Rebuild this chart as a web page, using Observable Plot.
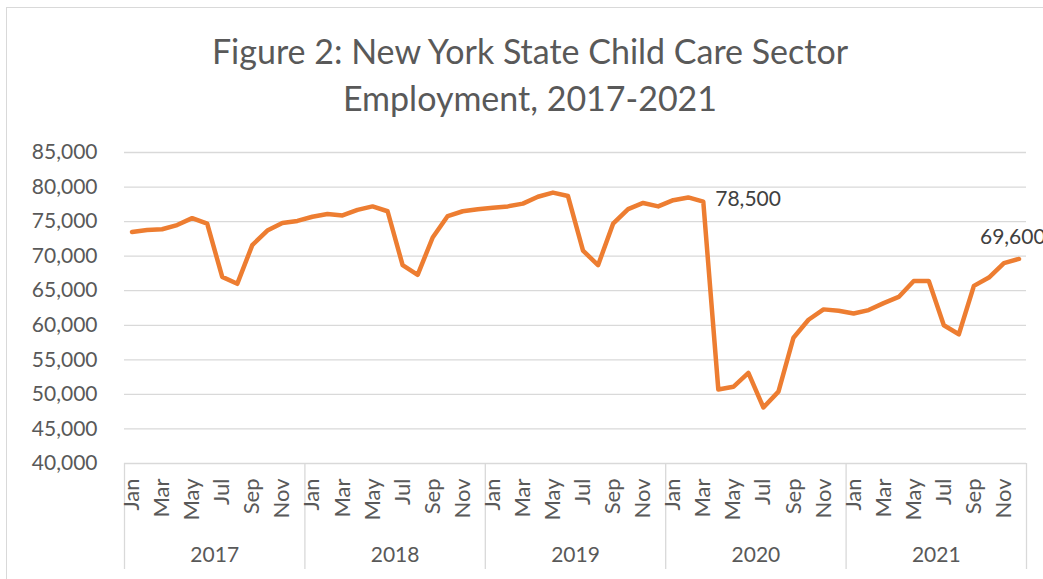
<!DOCTYPE html>
<html>
<head>
<meta charset="utf-8">
<script src="https://cdn.jsdelivr.net/npm/d3@7"></script>
<script src="https://cdn.jsdelivr.net/npm/@observablehq/plot@0.6"></script>
<style>
  html, body { margin: 0; padding: 0; background: #fff; overflow: hidden; }
  #wrap { position: relative; width: 1043px; height: 579px; overflow: hidden; }
  #border { position: absolute; left: 6px; top: 7px; width: 1100px; height: 640px; border: 1px solid #d9d9d9; box-sizing: border-box; }
  #title { position: absolute; left: 0; top: 27px; width: 1060px; text-align: center; font-family: Lato, "Open Sans", sans-serif; font-size: 34px; line-height: 47px; color: #595959; }
  #chart { position: absolute; left: 0; top: 0; }
</style>
</head>
<body>
<div id="wrap">
  <div id="border"></div>
  <div id="title">Figure 2: New York State Child Care Sector<br>Employment, 2017-2021</div>
  <div id="chart"></div>
</div>
<script>
const years = [2017, 2018, 2019, 2020, 2021];
const monthNames = ["Jan","Feb","Mar","Apr","May","Jun","Jul","Aug","Sep","Oct","Nov","Dec"];
const values2017 = [73500, 73800, 73900, 74500, 75500, 74700, 67000, 66000, 71600, 73700, 74800, 75100];
const values2018 = [75700, 76100, 75900, 76700, 77200, 76500, 68700, 67300, 72700, 75800, 76500, 76800];
const values2019 = [77000, 77200, 77600, 78600, 79200, 78700, 70800, 68700, 74700, 76800, 77700, 77200];
const values2020 = [78100, 78500, 77900, 50700, 51100, 53100, 48100, 50400, 58200, 60800, 62300, 62100];
const values2021 = [61700, 62200, 63200, 64100, 66400, 66400, 60000, 58700, 65700, 66900, 69000, 69600];
const yTicks = [40000, 45000, 50000, 55000, 60000, 65000, 70000, 75000, 80000, 85000];
const labeled = [{i: 37, v: 78500, text: "78,500"}];
const lastLabel = [{i: 59, v: 69600, text: "69,600"}];

const series = [values2017, values2018, values2019, values2020, values2021];
const data = [];
series.forEach((vals, yi) => vals.forEach((v, m) => data.push({i: yi * 12 + m, year: years[yi], month: monthNames[m], value: v})));

const monthTicks = data.filter(d => d.i % 2 === 0).map(d => d.i);
const boundaries = years.map((y, k) => k * 12 - 0.5).concat([years.length * 12 - 0.5]);
const yearCenters = years.map((y, k) => k * 12 + 5.5);

const fmt = d3.format(",");

const chart = Plot.plot({
  width: 1043,
  height: 579,
  marginTop: 152,
  marginBottom: 116,
  marginLeft: 124,
  marginRight: 17,
  style: {fontFamily: "Lato, 'Open Sans', sans-serif", fontSize: "21px", color: "#595959", background: "transparent"},
  x: {domain: [-0.5, 59.5], axis: null},
  y: {domain: [40000, 85000], axis: null},
  marks: [
    Plot.gridY(yTicks, {stroke: "#d9d9d9", strokeOpacity: 1, strokeWidth: 1.3}),
    Plot.axisY(yTicks, {tickSize: 0, tickPadding: 27, tickFormat: fmt, fill: "#595959", label: null}),
    Plot.axisX(boundaries, {tickSize: 106, tickFormat: () => "", stroke: "#d9d9d9", strokeWidth: 1.3, label: null}),
    Plot.axisX(monthTicks, {tickSize: 0, tickPadding: 15, tickRotate: -90, tickFormat: i => monthNames[i % 12], fill: "#595959", fontSize: 22, label: null}),
    Plot.axisX(yearCenters, {tickSize: 0, tickPadding: 84, tickFormat: c => String(years[Math.round((c - 5.5) / 12)]), fill: "#595959", label: null}),
    Plot.line(data, {x: "i", y: "value", stroke: "#ED7D31", strokeWidth: 4.5, strokeLinejoin: "round", strokeLinecap: "round"}),
    Plot.text(labeled, {x: "i", y: "v", text: "text", textAnchor: "start", dx: 27, dy: 2, fill: "#404040", fontSize: 21}),
    Plot.text(lastLabel, {x: "i", y: "v", text: "text", textAnchor: "start", dx: -39, dy: -22, fill: "#404040", fontSize: 21})
  ]
});
document.getElementById("chart").appendChild(chart);
</script>
</body>
</html>
